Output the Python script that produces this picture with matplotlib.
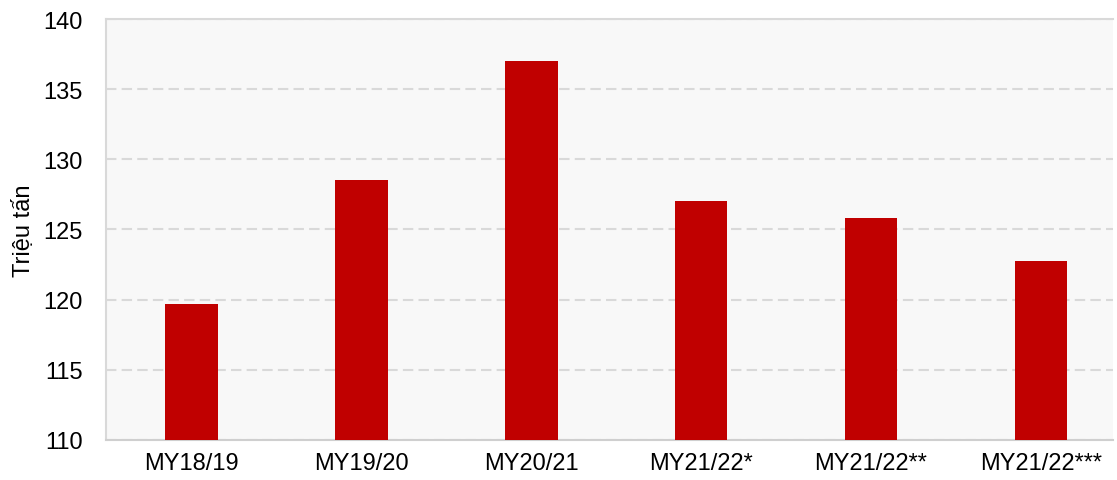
import matplotlib.pyplot as plt

plt.rcParams['font.family'] = ['Liberation Sans', 'DejaVu Sans']

seasons = ['MY18/19', 'MY19/20', 'MY20/21', 'MY21/22*', 'MY21/22**', 'MY21/22***']
output = [119.7, 128.5, 137.0, 127.0, 125.8, 122.75]

fig = plt.figure(figsize=(11.17, 4.81), dpi=100)
ax = fig.add_axes([0.0953, 0.0832, 0.9011, 0.8752])
ax.set_facecolor('#f8f8f8')

ax.bar(range(len(seasons)), output, width=0.31, color='#c00000', zorder=3)

ax.set_ylim(110, 140)
ax.set_xlim(-0.5, 5.424)
ax.set_yticks(range(110, 141, 5))
ax.set_xticks(range(len(seasons)))
ax.set_xticklabels(seasons)
ax.tick_params(length=0, labelsize=17, colors='#000000', pad=9)
ax.tick_params(axis='y', pad=17)

ax.yaxis.grid(True, linestyle=(0, (5, 2.5)), color='#d9d9d9', linewidth=1.5, zorder=0)
ax.set_axisbelow(True)

for s in ['top', 'left', 'bottom']:
    ax.spines[s].set_color('#d9d9d9')
    ax.spines[s].set_linewidth(1.5)
ax.spines['bottom'].set_color('#cfcfcf')
ax.spines['right'].set_visible(False)

ax.set_ylabel('Triệu tấn', fontsize=17, labelpad=6)

fig.savefig('out.png', dpi=100)
